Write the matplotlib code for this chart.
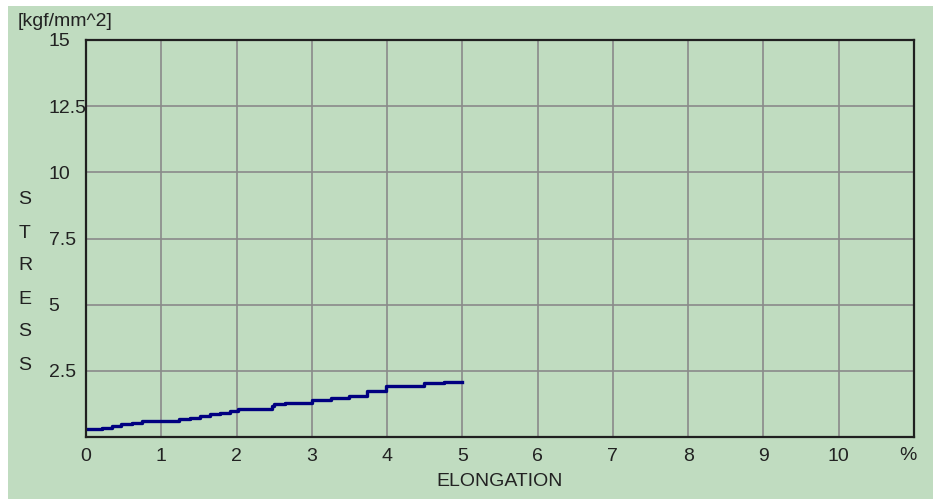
import matplotlib
matplotlib.use('Agg')
import matplotlib.pyplot as plt
from matplotlib.patches import Rectangle

# tensile test record: elongation [%] vs stress [kgf/mm^2]
elongacion = [0, 0.21, 0.34, 0.47, 0.61, 0.74, 1.23, 1.38, 1.51, 1.65, 1.78, 1.91,
              2.02, 2.47, 2.50, 2.65, 3.00, 3.25, 3.50, 3.73, 3.98, 4.49, 4.76, 5.00]
esfuerzo = [0.29, 0.35, 0.42, 0.48, 0.54, 0.61, 0.67, 0.73, 0.80, 0.86, 0.92, 0.98,
            1.05, 1.17, 1.24, 1.30, 1.40, 1.47, 1.55, 1.72, 1.93, 2.03, 2.09, 2.09]

xticks = list(range(0, 11))
yticks = [2.5, 5, 7.5, 10, 12.5, 15]
ylabels = ['2.5', '5', '7.5', '10', '12.5', '15']

fondo = '#c0dcc0'
W, H = 933, 499
fs = 14

plt.rcParams['font.family'] = ['Liberation Sans', 'DejaVu Sans']

fig = plt.figure(figsize=(W / 100, H / 100), dpi=100)
fig.patch.set_facecolor('white')
fig.patches.append(Rectangle((8 / W, 0), 1 - 8 / W, 1 - 6 / H, transform=fig.transFigure,
                             facecolor=fondo, edgecolor='none', zorder=-5))

ax = fig.add_axes([86 / W, 1 - 437 / H, (914 - 86) / W, (437 - 40) / H])
ax.set_facecolor(fondo)
ax.set_xlim(0, 11)
ax.set_ylim(0, 15)

ax.set_xticks(xticks)
ax.set_xticklabels([str(v) for v in xticks], fontsize=fs, color='#222222')
ax.set_yticks(yticks)
ax.set_yticklabels(ylabels, fontsize=fs, color='#222222')
for lbl in ax.get_yticklabels():
    lbl.set_horizontalalignment('left')
ax.tick_params(axis='both', length=0)
ax.tick_params(axis='y', pad=27)
ax.tick_params(axis='x', pad=8)

ax.grid(True, color='#8a8a8a', linewidth=1.2)
ax.set_axisbelow(True)
for s in ax.spines.values():
    s.set_color('#202020')
    s.set_linewidth(1.6)

ax.plot(elongacion, esfuerzo, drawstyle='steps-post', color='#000080', linewidth=2.4)

fig.text(908 / W, 1 - 455 / H, '%', ha='center', va='center', fontsize=fs, color='#222222')
fig.text(500 / W, 1 - 481 / H, 'ELONGATION', ha='center', va='center', fontsize=fs, color='#222222')
fig.text(18 / W, 1 - 22 / H, '[kgf/mm^2]', ha='left', va='center', fontsize=fs, color='#222222')

for i, letra in enumerate('STRESS'):
    fig.text(25 / W, 1 - (200 + 33 * i) / H, letra, ha='center', va='center',
             fontsize=fs, color='#222222')

plt.savefig('out.png', dpi=100, facecolor=fig.get_facecolor())
